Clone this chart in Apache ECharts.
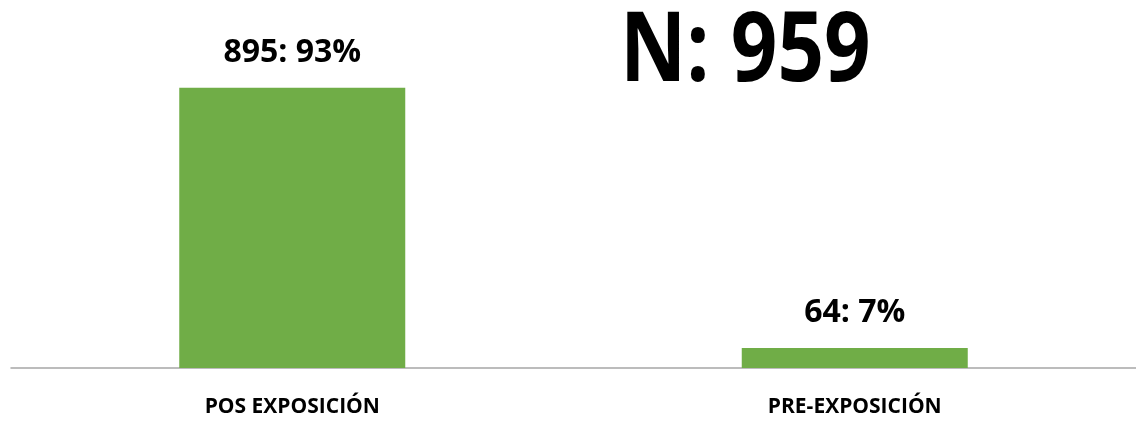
<!DOCTYPE html>
<html>
<head>
<meta charset="utf-8">
<script src="https://cdn.jsdelivr.net/npm/echarts@6/dist/echarts.min.js"></script>
<style>
html,body{margin:0;padding:0;background:#fff;}
#chart{width:1136px;height:421px;}
</style>
</head>
<body>
<div id="chart"></div>
<script>
var categories = ['POS EXPOSICIÓN', 'PRE-EXPOSICIÓN'];
var counts = [895, 64];
var percents = [93, 7];
var totalN = 959;

var chart = echarts.init(document.getElementById('chart'));
chart.setOption({
  animation: false,
  backgroundColor: '#ffffff',
  grid: { left: 11, right: 0, top: 55, bottom: 53, containLabel: false },
  xAxis: {
    type: 'category',
    data: categories,
    axisLine: { show: true, lineStyle: { color: '#A6A6A6', width: 1.5 } },
    axisTick: { show: false },
    axisLabel: {
      color: '#000',
      fontFamily: 'Open Sans',
      fontWeight: 'bold',
      fontSize: 21,
      margin: 29
    }
  },
  yAxis: {
    type: 'value',
    min: 0,
    max: 1000,
    show: false,
    splitLine: { show: false }
  },
  series: [{
    type: 'bar',
    data: counts,
    barWidth: 226,
    itemStyle: { color: '#70AD47' },
    label: {
      show: true,
      position: 'top',
      distance: 19,
      color: '#000',
      fontFamily: 'Open Sans',
      fontWeight: 'bold',
      fontSize: 32,
      formatter: function (p) { return counts[p.dataIndex] + ': ' + percents[p.dataIndex] + '%'; }
    }
  }],
  graphic: [{
    type: 'text',
    left: 620,
    top: 6,
    scaleX: 0.85,
    style: {
      text: 'N: ' + totalN,
      fill: '#000',
      font: 'bold 96px "Open Sans"'
    }
  }]
});
</script>
</body>
</html>
